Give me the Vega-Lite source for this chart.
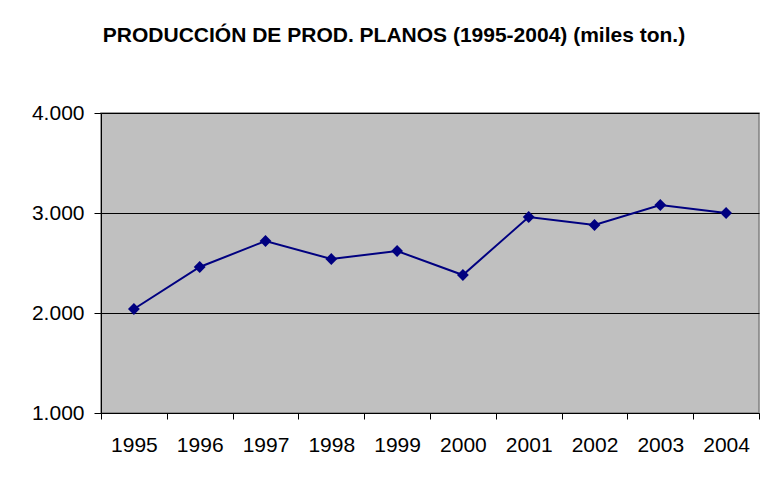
{
  "$schema": "https://vega.github.io/schema/vega-lite/v6.json",
  "autosize": {"type": "none"},
  "width": 658,
  "height": 300,
  "padding": {"left": 101, "top": 113, "right": 12, "bottom": 68},
  "background": "white",
  "title": {
    "text": "PRODUCCIÓN DE PROD. PLANOS (1995-2004) (miles ton.)",
    "anchor": "middle",
    "frame": "group",
    "dx": -36,
    "offset": 56,
    "font": "Liberation Sans",
    "fontSize": 21,
    "fontWeight": "bold",
    "color": "black"
  },
  "config": {
    "view": {"fill": "#C0C0C0", "stroke": "#808080", "strokeWidth": 1.5},
    "axis": {"labelFont": "Liberation Sans", "labelColor": "black", "domainColor": "black", "tickColor": "black"}
  },
  "data": {
    "values": [
      {"year": "1995", "value": 2040},
      {"year": "1996", "value": 2460},
      {"year": "1997", "value": 2720},
      {"year": "1998", "value": 2540},
      {"year": "1999", "value": 2620},
      {"year": "2000", "value": 2380},
      {"year": "2001", "value": 2960},
      {"year": "2002", "value": 2880},
      {"year": "2003", "value": 3080},
      {"year": "2004", "value": 3000}
    ]
  },
  "encoding": {
    "x": {
      "field": "year",
      "type": "ordinal",
      "scale": {"paddingInner": 0, "paddingOuter": 0},
      "axis": {
        "title": null,
        "labelAngle": 0,
        "labelFontSize": 21,
        "labelPadding": 15,
        "tickBand": "extent",
        "tickSize": 6,
        "domainWidth": 1,
        "grid": false
      }
    },
    "y": {
      "field": "value",
      "type": "quantitative",
      "scale": {"domain": [1000, 4000], "nice": false, "zero": false},
      "axis": {
        "title": null,
        "values": [1000, 2000, 3000, 4000],
        "labelExpr": "replace(format(datum.value, ','), ',', '.')",
        "labelFontSize": 21,
        "labelPadding": 10,
        "tickSize": 7,
        "grid": true,
        "gridColor": "black",
        "gridOpacity": 1,
        "gridWidth": 1
      }
    }
  },
  "layer": [
    {"mark": {"type": "line", "color": "#000080", "strokeWidth": 2}},
    {"mark": {"type": "point", "shape": "diamond", "filled": true, "color": "#000080", "opacity": 1, "size": 140}}
  ]
}
